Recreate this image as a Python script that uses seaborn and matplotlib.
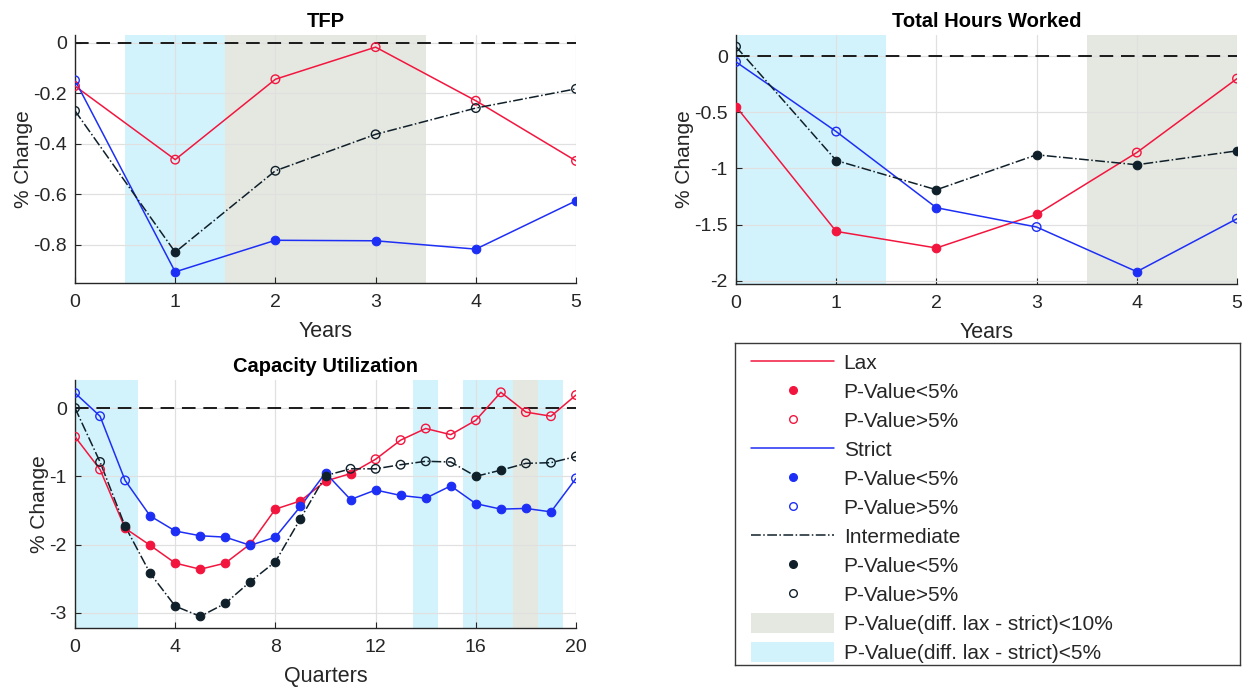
import numpy as np
import pandas as pd
import seaborn as sns
import matplotlib
matplotlib.use("Agg")
import matplotlib.pyplot as plt
from matplotlib.lines import Line2D
from matplotlib.patches import Patch
from matplotlib.ticker import FuncFormatter

# ---------------- data ----------------
years = [0, 1, 2, 3, 4, 5]
quarters = list(range(21))

tfp_lax = [-0.172, -0.463, -0.145, -0.018, -0.230, -0.468]
tfp_lax_sig = [0, 0, 0, 0, 0, 0]
tfp_strict = [-0.149, -0.907, -0.782, -0.784, -0.817, -0.626]
tfp_strict_sig = [0, 1, 1, 1, 1, 1]
tfp_inter = [-0.270, -0.829, -0.507, -0.363, -0.259, -0.183]
tfp_inter_sig = [0, 1, 0, 0, 0, 0]
tfp_cyan = [(0.5, 1.5)]
tfp_gray = [(1.5, 3.5)]

hrs_lax = [-0.448, -1.561, -1.709, -1.410, -0.858, -0.199]
hrs_lax_sig = [1, 1, 1, 1, 0, 0]
hrs_strict = [-0.050, -0.671, -1.350, -1.522, -1.920, -1.448]
hrs_strict_sig = [0, 0, 1, 0, 1, 0]
hrs_inter = [0.086, -0.929, -1.190, -0.878, -0.967, -0.843]
hrs_inter_sig = [0, 1, 1, 1, 1, 1]
hrs_cyan = [(-0.5, 1.5)]
hrs_gray = [(3.5, 5.5)]

cu_lax = [-0.42, -0.90, -1.76, -2.01, -2.27, -2.36, -2.27, -1.99, -1.48, -1.36, -1.07,
          -0.96, -0.75, -0.47, -0.30, -0.39, -0.18, 0.23, -0.06, -0.12, 0.19]
cu_lax_sig = [0, 0, 1, 1, 1, 1, 1, 1, 1, 1, 1, 1, 0, 0, 0, 0, 0, 0, 0, 0, 0]
cu_strict = [0.22, -0.12, -1.06, -1.58, -1.80, -1.87, -1.89, -2.01, -1.89, -1.44, -0.95,
             -1.34, -1.20, -1.28, -1.32, -1.14, -1.40, -1.48, -1.47, -1.52, -1.03]
cu_strict_sig = [0, 0, 0, 1, 1, 1, 1, 1, 1, 1, 1, 1, 1, 1, 1, 1, 1, 1, 1, 1, 0]
cu_inter = [0.00, -0.79, -1.73, -2.42, -2.90, -3.05, -2.86, -2.54, -2.25, -1.62, -0.99,
            -0.89, -0.89, -0.83, -0.78, -0.79, -1.00, -0.91, -0.81, -0.80, -0.71]
cu_inter_sig = [0, 0, 1, 1, 1, 1, 1, 1, 1, 1, 1, 0, 0, 0, 0, 0, 1, 1, 0, 0, 0]
cu_cyan = [(-0.5, 2.5), (13.5, 14.5), (15.5, 17.5), (18.5, 19.5)]
cu_gray = [(17.5, 18.5)]

legend_labels = ["Lax", "P-Value<5%", "P-Value>5%", "Strict", "P-Value<5%", "P-Value>5%",
                 "Intermediate", "P-Value<5%", "P-Value>5%",
                 "P-Value(diff. lax - strict)<10%", "P-Value(diff. lax - strict)<5%"]

# ---------------- style ----------------
sns.set_theme(style="ticks")
plt.rcParams["font.family"] = ["Liberation Sans", "DejaVu Sans"]
plt.rcParams["axes.unicode_minus"] = False

RED = "#f2163f"
BLUE = "#1e2ff5"
DARK = "#10202a"
CYAN = "#d3f3fc"
GRAY = "#e5e7e1"
TXT = "#262626"

fig = plt.figure(figsize=(12.43, 6.89), dpi=100)
W, H = 1243, 689


def ax_at(l, t, r, b):
    return fig.add_axes([l / W, 1 - b / H, (r - l) / W, (b - t) / H])


def draw_panel(ax, x, series, cyan, gray, title, xlabel, xlim, ylim, xticks, yticks):
    for a, b in gray:
        ax.axvspan(a, b, color=GRAY, lw=0, zorder=0)
    for a, b in cyan:
        ax.axvspan(a, b, color=CYAN, lw=0, zorder=0)
    ax.axhline(0, color="#1a1a1a", lw=1.4, ls=(0, (7, 4)), zorder=1)
    for vals, sig, col, ls in series:
        df = pd.DataFrame({"x": x, "y": vals, "sig": sig})
        sns.lineplot(data=df, x="x", y="y", ax=ax, color=col, lw=1.1,
                     linestyle=ls, zorder=3, legend=False)
        f = df[df.sig == 1]
        o = df[df.sig == 0]
        sns.scatterplot(data=f, x="x", y="y", ax=ax, color=col, s=38,
                        edgecolor=col, linewidth=0.8, zorder=4, legend=False)
        sns.scatterplot(data=o, x="x", y="y", ax=ax, facecolor="none", s=38,
                        edgecolor=col, linewidth=1.0, zorder=4, legend=False)
    ax.set_xlim(*xlim)
    ax.set_ylim(*ylim)
    ax.set_xticks(xticks)
    ax.set_yticks(yticks)
    ax.yaxis.set_major_formatter(FuncFormatter(lambda v, p: "%g" % round(v, 4)))
    ax.grid(True, color="#e0e0e0", lw=0.9)
    ax.set_axisbelow(True)
    for s in ["top", "right"]:
        ax.spines[s].set_visible(False)
    for s in ["left", "bottom"]:
        ax.spines[s].set_color(TXT)
        ax.spines[s].set_linewidth(1.0)
    ax.tick_params(direction="in", length=4, width=0.8, colors=TXT,
                   labelsize=14, pad=6)
    ax.tick_params(axis="x", pad=8)
    ax.set_title(title, fontsize=14.5, fontweight="bold", pad=6, color="black")
    ax.set_xlabel(xlabel, fontsize=15.5, color=TXT, labelpad=7)
    ax.set_ylabel("% Change", fontsize=15, color=TXT, labelpad=0)


ax1 = ax_at(75, 35, 576, 283)
draw_panel(ax1, years,
           [(tfp_lax, tfp_lax_sig, RED, "-"), (tfp_strict, tfp_strict_sig, BLUE, "-"),
            (tfp_inter, tfp_inter_sig, DARK, "-.")],
           tfp_cyan, tfp_gray, "TFP", "Years", (0, 5), (-0.951, 0.03),
           years, [-0.8, -0.6, -0.4, -0.2, 0])

ax2 = ax_at(736, 35, 1237, 284)
draw_panel(ax2, years,
           [(hrs_lax, hrs_lax_sig, RED, "-"), (hrs_strict, hrs_strict_sig, BLUE, "-"),
            (hrs_inter, hrs_inter_sig, DARK, "-.")],
           hrs_cyan, hrs_gray, "Total Hours Worked", "Years", (0, 5), (-2.03, 0.19),
           years, [-2, -1.5, -1, -0.5, 0])

ax3 = ax_at(75, 380, 576, 628)
draw_panel(ax3, quarters,
           [(cu_lax, cu_lax_sig, RED, "-"), (cu_strict, cu_strict_sig, BLUE, "-"),
            (cu_inter, cu_inter_sig, DARK, "-.")],
           cu_cyan, cu_gray, "Capacity Utilization", "Quarters", (0, 20), (-3.22, 0.41),
           [0, 4, 8, 12, 16, 20], [-3, -2, -1, 0])

# ---------------- legend ----------------
axl = ax_at(735, 343, 1240, 665)
axl.set_xticks([])
axl.set_yticks([])
axl.set_facecolor("white")
for s in axl.spines.values():
    s.set_visible(True)
    s.set_color("#3a3a3a")
    s.set_linewidth(1.0)

handles = []
for col, ls in [(RED, "-"), (BLUE, "-"), (DARK, "-.")]:
    handles.append(Line2D([], [], color=col, lw=1.1, ls=ls))
    handles.append(Line2D([], [], color=col, lw=0, marker="o", ms=5.5,
                          markerfacecolor=col, markeredgecolor=col))
    handles.append(Line2D([], [], color=col, lw=0, marker="o", ms=5.5,
                          markerfacecolor="none", markeredgecolor=col, markeredgewidth=1.0))
handles.append(Patch(facecolor=GRAY, edgecolor="none"))
handles.append(Patch(facecolor=CYAN, edgecolor="none"))
leg = axl.legend(handles, legend_labels, loc="upper left",
                 bbox_to_anchor=(16 / 505, 1 - 9 / 322), fontsize=15, frameon=False,
                 handlelength=4.0, handleheight=1.1, handletextpad=0.45,
                 labelspacing=0.38, borderpad=0, borderaxespad=0)

fig.savefig("out.png", dpi=100)
